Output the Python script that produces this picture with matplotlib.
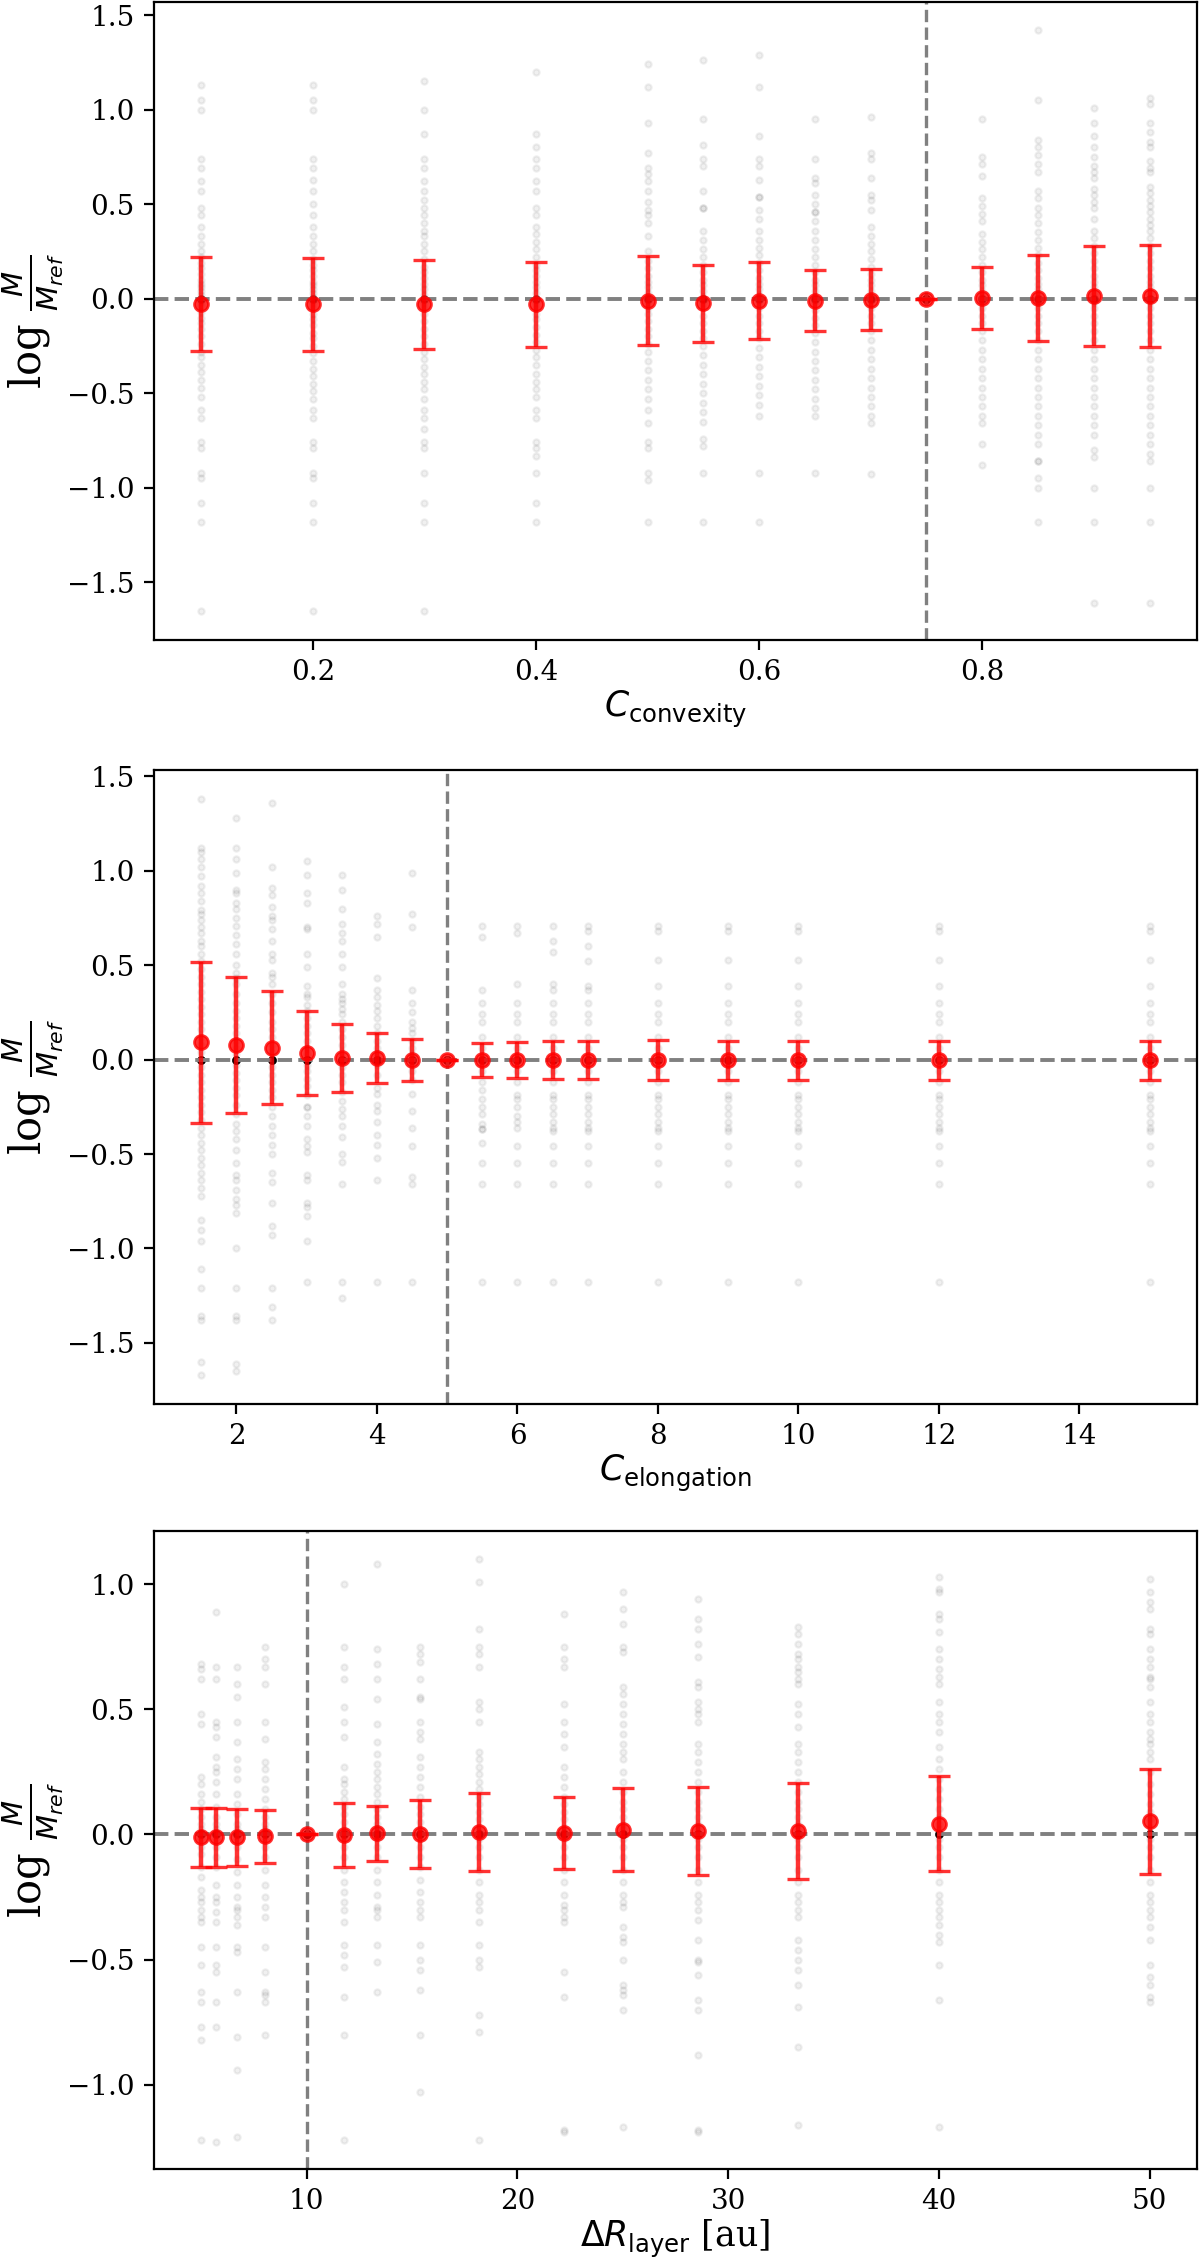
import numpy as np
import matplotlib
matplotlib.use("Agg")
import matplotlib.pyplot as plt

plt.rcParams['font.family'] = 'serif'
plt.rcParams['font.serif'] = ['DejaVu Serif']
plt.rcParams['mathtext.fontset'] = 'dejavusans'

# ---------------- panel 1 : C_convexity ----------------
conv_x = [0.1, 0.2, 0.3, 0.4, 0.5, 0.55, 0.6, 0.65, 0.7, 0.75, 0.8, 0.85, 0.9, 0.95]
conv_mean = [-0.03, -0.03, -0.03, -0.03, -0.01, -0.025, -0.01, -0.01, -0.005, 0.0, 0.004, 0.003, 0.012, 0.016]
conv_err = [0.248, 0.247, 0.236, 0.225, 0.233, 0.202, 0.203, 0.16, 0.162, 0.0, 0.166, 0.229, 0.264, 0.27]
conv_ref = 0.75
conv_nzero = [15, 15, 15, 15, 15, 15, 15, 15, 15, 60, 15, 15, 15, 15]
conv_pts = [
    [1.13, 1.05, 1.0, 0.74, 0.69, 0.62, 0.57, 0.48, 0.44, 0.38, 0.33, 0.29, 0.25, 0.22, 0.19, 0.16, 0.13, 0.1, 0.08, 0.06, 0.04, 0.02, -0.02, -0.04, -0.07, -0.1, -0.13, -0.16, -0.2, -0.24, -0.28, -0.31, -0.35, -0.39, -0.43, -0.47, -0.52, -0.59, -0.63, -0.76, -0.79, -0.92, -0.95, -1.08, -1.18, -1.65],
    [1.13, 1.05, 1.0, 0.74, 0.69, 0.63, 0.57, 0.5, 0.44, 0.38, 0.33, 0.29, 0.25, 0.21, 0.18, 0.15, 0.12, 0.09, 0.07, 0.05, 0.03, 0.01, -0.02, -0.05, -0.08, -0.11, -0.14, -0.18, -0.21, -0.25, -0.29, -0.33, -0.37, -0.41, -0.45, -0.49, -0.53, -0.59, -0.63, -0.76, -0.79, -0.92, -0.95, -1.08, -1.18, -1.65],
    [1.15, 1.0, 0.87, 0.74, 0.69, 0.62, 0.57, 0.52, 0.48, 0.44, 0.4, 0.36, 0.33, 0.29, 0.25, 0.21, 0.17, 0.14, 0.11, 0.08, 0.05, 0.02, -0.02, -0.05, -0.08, -0.12, -0.16, -0.2, -0.24, -0.28, -0.32, -0.36, -0.4, -0.44, -0.48, -0.53, -0.59, -0.63, -0.69, -0.76, -0.79, -0.92, -1.08, -1.18, -1.65],
    [1.2, 0.87, 0.8, 0.74, 0.69, 0.62, 0.57, 0.48, 0.44, 0.38, 0.34, 0.3, 0.26, 0.22, 0.18, 0.15, 0.12, 0.09, 0.06, 0.03, -0.02, -0.05, -0.08, -0.11, -0.15, -0.19, -0.23, -0.27, -0.31, -0.35, -0.4, -0.44, -0.48, -0.52, -0.59, -0.63, -0.76, -0.79, -0.83, -0.92, -1.08, -1.18],
    [1.24, 1.12, 0.93, 0.77, 0.69, 0.66, 0.62, 0.57, 0.51, 0.47, 0.44, 0.4, 0.33, 0.25, 0.2, 0.16, 0.12, 0.09, 0.06, 0.03, -0.02, -0.05, -0.08, -0.12, -0.16, -0.2, -0.24, -0.28, -0.33, -0.38, -0.43, -0.48, -0.53, -0.59, -0.66, -0.76, -0.79, -0.92, -0.96, -1.18],
    [1.26, 0.95, 0.81, 0.74, 0.7, 0.57, 0.48, 0.48, 0.36, 0.31, 0.26, 0.22, 0.18, 0.14, 0.1, 0.07, 0.04, 0.01, -0.02, -0.05, -0.09, -0.13, -0.17, -0.21, -0.25, -0.3, -0.35, -0.4, -0.45, -0.5, -0.55, -0.6, -0.65, -0.74, -0.78, -0.92, -1.18],
    [1.29, 1.12, 0.86, 0.74, 0.7, 0.63, 0.54, 0.54, 0.47, 0.42, 0.36, 0.31, 0.27, 0.23, 0.19, 0.15, 0.11, 0.08, 0.05, 0.02, -0.02, -0.05, -0.09, -0.13, -0.17, -0.21, -0.26, -0.31, -0.36, -0.41, -0.46, -0.51, -0.56, -0.62, -0.92, -1.18],
    [0.95, 0.74, 0.64, 0.61, 0.55, 0.5, 0.46, 0.46, 0.41, 0.36, 0.31, 0.26, 0.22, 0.18, 0.14, 0.1, 0.07, 0.04, 0.01, -0.02, -0.06, -0.1, -0.14, -0.18, -0.23, -0.28, -0.33, -0.38, -0.43, -0.48, -0.53, -0.58, -0.62, -0.92],
    [0.96, 0.77, 0.74, 0.64, 0.55, 0.52, 0.47, 0.38, 0.33, 0.29, 0.25, 0.21, 0.17, 0.13, 0.1, 0.07, 0.04, 0.01, -0.02, -0.05, -0.09, -0.13, -0.17, -0.22, -0.27, -0.32, -0.37, -0.42, -0.47, -0.52, -0.57, -0.62, -0.66, -0.93],
    [],
    [0.95, 0.75, 0.71, 0.65, 0.53, 0.49, 0.45, 0.41, 0.34, 0.3, 0.26, 0.22, 0.18, 0.14, 0.1, 0.07, 0.04, 0.01, -0.02, -0.05, -0.09, -0.13, -0.17, -0.22, -0.27, -0.32, -0.37, -0.42, -0.47, -0.52, -0.57, -0.62, -0.66, -0.77, -0.88],
    [1.42, 1.05, 0.84, 0.8, 0.76, 0.71, 0.67, 0.57, 0.53, 0.48, 0.44, 0.4, 0.35, 0.31, 0.27, 0.23, 0.19, 0.15, 0.11, 0.08, 0.05, 0.02, -0.02, -0.05, -0.09, -0.13, -0.17, -0.22, -0.27, -0.32, -0.37, -0.42, -0.47, -0.52, -0.57, -0.62, -0.67, -0.72, -0.77, -0.86, -0.86, -0.95, -1.0, -1.18],
    [1.01, 0.93, 0.86, 0.8, 0.75, 0.7, 0.67, 0.64, 0.58, 0.55, 0.51, 0.48, 0.42, 0.36, 0.32, 0.28, 0.24, 0.2, 0.16, 0.12, 0.09, 0.06, 0.03, -0.02, -0.05, -0.09, -0.13, -0.17, -0.22, -0.27, -0.32, -0.37, -0.42, -0.47, -0.52, -0.57, -0.62, -0.67, -0.72, -0.8, -0.84, -1.0, -1.18, -1.61],
    [1.06, 1.03, 0.93, 0.88, 0.83, 0.8, 0.73, 0.69, 0.67, 0.59, 0.56, 0.52, 0.49, 0.46, 0.42, 0.39, 0.36, 0.32, 0.28, 0.24, 0.2, 0.16, 0.12, 0.09, 0.06, 0.03, -0.02, -0.05, -0.09, -0.13, -0.17, -0.22, -0.27, -0.32, -0.37, -0.42, -0.47, -0.52, -0.57, -0.62, -0.67, -0.72, -0.77, -0.82, -0.86, -1.0, -1.18, -1.61],
]

# ---------------- panel 2 : C_elongation ----------------
elon_x = [1.5, 2, 2.5, 3, 3.5, 4, 4.5, 5, 5.5, 6, 6.5, 7, 8, 9, 10, 12, 15]
elon_mean = [0.091, 0.079, 0.063, 0.035, 0.011, 0.007, -0.002, 0.0, -0.002, -0.002, -0.003, -0.003, -0.003, -0.003, -0.003, -0.003, -0.003]
elon_err = [0.426, 0.36, 0.30, 0.225, 0.18, 0.132, 0.111, 0.0, 0.09, 0.094, 0.10, 0.10, 0.107, 0.103, 0.103, 0.103, 0.103]
elon_ref = 5
elon_nzero = [40, 40, 40, 40, 40, 40, 30, 60, 25, 25, 25, 25, 25, 25, 25, 25, 25]
elon_pts = [
    [1.38, 1.12, 1.1, 1.06, 1.02, 0.97, 0.92, 0.88, 0.84, 0.79, 0.77, 0.74, 0.7, 0.67, 0.63, 0.6, 0.56, 0.52, 0.48, 0.44, 0.4, 0.36, 0.32, 0.28, 0.24, 0.2, 0.16, 0.12, 0.08, 0.04, -0.04, -0.08, -0.12, -0.16, -0.2, -0.24, -0.28, -0.32, -0.36, -0.4, -0.44, -0.48, -0.52, -0.56, -0.6, -0.64, -0.68, -0.72, -0.85, -0.9, -0.96, -1.11, -1.21, -1.36, -1.38, -1.6, -1.67],
    [1.28, 1.12, 1.06, 0.99, 0.9, 0.88, 0.83, 0.8, 0.75, 0.71, 0.66, 0.61, 0.56, 0.5, 0.46, 0.43, 0.4, 0.35, 0.3, 0.26, 0.22, 0.18, 0.14, 0.1, 0.06, 0.03, -0.03, -0.07, -0.11, -0.15, -0.19, -0.24, -0.29, -0.34, -0.38, -0.42, -0.48, -0.55, -0.61, -0.64, -0.69, -0.74, -0.77, -0.81, -1.0, -1.21, -1.36, -1.38, -1.61, -1.65],
    [1.36, 1.02, 0.91, 0.87, 0.81, 0.76, 0.74, 0.69, 0.63, 0.56, 0.53, 0.46, 0.44, 0.4, 0.35, 0.3, 0.25, 0.2, 0.16, 0.12, 0.08, 0.04, -0.04, -0.08, -0.12, -0.16, -0.2, -0.25, -0.3, -0.35, -0.4, -0.45, -0.5, -0.6, -0.65, -0.76, -0.88, -0.93, -1.21, -1.31, -1.38],
    [1.05, 0.98, 0.88, 0.83, 0.7, 0.69, 0.56, 0.49, 0.39, 0.35, 0.33, 0.29, 0.26, 0.22, 0.18, 0.14, 0.1, 0.06, 0.03, -0.03, -0.06, -0.1, -0.14, -0.19, -0.25, -0.25, -0.3, -0.35, -0.42, -0.46, -0.49, -0.61, -0.64, -0.76, -0.78, -0.83, -0.96, -1.18],
    [0.98, 0.9, 0.8, 0.72, 0.67, 0.63, 0.56, 0.49, 0.4, 0.35, 0.32, 0.3, 0.27, 0.24, 0.2, 0.16, 0.12, 0.08, 0.04, -0.04, -0.08, -0.12, -0.17, -0.22, -0.26, -0.3, -0.35, -0.41, -0.5, -0.54, -0.66, -1.18, -1.26],
    [0.76, 0.72, 0.65, 0.43, 0.37, 0.33, 0.29, 0.26, 0.22, 0.18, 0.14, 0.1, 0.06, 0.03, -0.03, -0.08, -0.15, -0.18, -0.24, -0.27, -0.33, -0.4, -0.45, -0.52, -0.64, -1.18],
    [0.99, 0.77, 0.7, 0.37, 0.3, 0.25, 0.2, 0.17, 0.14, 0.1, 0.06, 0.03, -0.03, -0.06, -0.11, -0.18, -0.27, -0.36, -0.46, -0.62, -0.66, -1.18],
    [],
    [0.71, 0.65, 0.37, 0.3, 0.24, 0.2, 0.12, 0.06, -0.06, -0.12, -0.16, -0.21, -0.25, -0.29, -0.34, -0.37, -0.37, -0.44, -0.55, -0.66, -1.18],
    [0.71, 0.67, 0.4, 0.3, 0.24, 0.2, 0.12, 0.06, -0.06, -0.12, -0.19, -0.21, -0.25, -0.3, -0.33, -0.36, -0.46, -0.55, -0.66, -1.18],
    [0.71, 0.63, 0.57, 0.4, 0.37, 0.3, 0.24, 0.2, 0.12, 0.06, -0.06, -0.12, -0.19, -0.21, -0.25, -0.29, -0.33, -0.36, -0.38, -0.46, -0.55, -0.66, -1.18],
    [0.71, 0.68, 0.6, 0.52, 0.39, 0.37, 0.3, 0.24, 0.2, 0.12, 0.06, -0.06, -0.12, -0.19, -0.21, -0.25, -0.29, -0.33, -0.36, -0.38, -0.46, -0.55, -0.66, -1.18],
    [0.71, 0.68, 0.53, 0.39, 0.3, 0.24, 0.2, 0.12, 0.06, -0.06, -0.12, -0.19, -0.21, -0.25, -0.29, -0.33, -0.36, -0.38, -0.46, -0.55, -0.66, -1.18],
    [0.71, 0.68, 0.53, 0.39, 0.3, 0.24, 0.2, 0.12, 0.06, -0.06, -0.12, -0.19, -0.21, -0.25, -0.29, -0.33, -0.36, -0.38, -0.46, -0.55, -0.66, -1.18],
    [0.71, 0.68, 0.53, 0.39, 0.3, 0.24, 0.2, 0.12, 0.06, -0.06, -0.12, -0.19, -0.21, -0.25, -0.29, -0.33, -0.36, -0.38, -0.46, -0.55, -0.66, -1.18],
    [0.71, 0.68, 0.53, 0.39, 0.3, 0.24, 0.2, 0.12, 0.06, -0.06, -0.12, -0.19, -0.21, -0.25, -0.29, -0.33, -0.36, -0.38, -0.46, -0.55, -0.66, -1.18],
    [0.71, 0.68, 0.53, 0.39, 0.3, 0.24, 0.2, 0.12, 0.06, -0.06, -0.12, -0.19, -0.21, -0.25, -0.29, -0.33, -0.36, -0.38, -0.46, -0.55, -0.66, -1.18],
]

# ---------------- panel 3 : Delta R_layer ----------------
lay_x = [5.0, 5.71, 6.67, 8.0, 10.0, 11.76, 13.33, 15.38, 18.18, 22.22, 25.0, 28.57, 33.33, 40.0, 50.0]
lay_mean = [-0.012, -0.012, -0.012, -0.008, 0.0, -0.003, 0.005, 0.002, 0.011, 0.005, 0.019, 0.015, 0.015, 0.043, 0.052]
lay_err = [0.116, 0.117, 0.114, 0.106, 0.0, 0.128, 0.11, 0.135, 0.155, 0.143, 0.165, 0.175, 0.192, 0.19, 0.208]
lay_ref = 10
lay_nzero = [25, 25, 25, 25, 60, 25, 25, 25, 25, 25, 30, 30, 30, 35, 35]
lay_pts = [
    [0.68, 0.66, 0.62, 0.48, 0.44, 0.23, 0.2, 0.16, 0.13, 0.1, 0.07, 0.04, 0.02, -0.02, -0.05, -0.08, -0.13, -0.17, -0.22, -0.25, -0.27, -0.3, -0.33, -0.35, -0.45, -0.52, -0.63, -0.67, -0.77, -0.82, -1.22],
    [0.89, 0.67, 0.62, 0.45, 0.43, 0.39, 0.31, 0.27, 0.25, 0.21, 0.16, 0.11, 0.07, 0.04, 0.02, -0.02, -0.05, -0.09, -0.13, -0.2, -0.25, -0.27, -0.31, -0.35, -0.45, -0.52, -0.55, -0.67, -0.77, -1.23],
    [0.67, 0.6, 0.55, 0.45, 0.37, 0.3, 0.26, 0.22, 0.16, 0.12, 0.08, 0.04, 0.02, -0.02, -0.05, -0.1, -0.15, -0.2, -0.25, -0.29, -0.3, -0.33, -0.36, -0.45, -0.47, -0.63, -0.81, -0.94, -1.21],
    [0.75, 0.7, 0.67, 0.6, 0.45, 0.38, 0.29, 0.26, 0.22, 0.18, 0.14, 0.1, 0.07, 0.04, 0.02, -0.02, -0.05, -0.09, -0.14, -0.2, -0.25, -0.29, -0.33, -0.45, -0.55, -0.63, -0.64, -0.67, -0.8],
    [],
    [1.0, 0.75, 0.67, 0.62, 0.51, 0.45, 0.39, 0.27, 0.22, 0.2, 0.17, 0.14, 0.11, 0.08, 0.05, 0.02, -0.02, -0.05, -0.09, -0.14, -0.19, -0.23, -0.27, -0.3, -0.35, -0.44, -0.48, -0.53, -0.65, -0.8, -1.22],
    [1.08, 0.74, 0.68, 0.62, 0.54, 0.44, 0.37, 0.32, 0.28, 0.25, 0.22, 0.19, 0.16, 0.13, 0.1, 0.07, 0.04, 0.02, -0.02, -0.05, -0.09, -0.14, -0.19, -0.24, -0.29, -0.3, -0.33, -0.44, -0.51, -0.63],
    [0.75, 0.72, 0.69, 0.62, 0.55, 0.54, 0.45, 0.41, 0.38, 0.31, 0.27, 0.23, 0.19, 0.15, 0.11, 0.08, 0.05, 0.02, -0.02, -0.05, -0.09, -0.13, -0.18, -0.23, -0.27, -0.3, -0.33, -0.44, -0.5, -0.54, -0.62, -0.8, -1.03],
    [1.1, 1.01, 0.82, 0.75, 0.72, 0.67, 0.53, 0.5, 0.45, 0.33, 0.3, 0.27, 0.24, 0.21, 0.18, 0.15, 0.12, 0.09, 0.06, 0.03, -0.02, -0.05, -0.09, -0.14, -0.19, -0.24, -0.27, -0.3, -0.35, -0.44, -0.5, -0.53, -0.72, -0.79, -1.22],
    [0.88, 0.75, 0.7, 0.67, 0.52, 0.45, 0.4, 0.35, 0.27, 0.23, 0.19, 0.15, 0.12, 0.09, 0.06, 0.03, -0.02, -0.05, -0.09, -0.14, -0.19, -0.24, -0.28, -0.3, -0.33, -0.35, -0.55, -0.65, -1.18, -1.19],
    [0.97, 0.9, 0.84, 0.75, 0.73, 0.59, 0.56, 0.52, 0.48, 0.44, 0.4, 0.36, 0.33, 0.3, 0.25, 0.21, 0.17, 0.13, 0.1, 0.07, 0.04, 0.02, -0.02, -0.05, -0.09, -0.14, -0.19, -0.24, -0.27, -0.29, -0.37, -0.41, -0.43, -0.5, -0.6, -0.62, -0.64, -0.7, -1.17],
    [0.94, 0.86, 0.82, 0.76, 0.71, 0.61, 0.59, 0.53, 0.5, 0.48, 0.45, 0.36, 0.33, 0.29, 0.25, 0.21, 0.17, 0.13, 0.1, 0.07, 0.04, 0.02, -0.02, -0.05, -0.09, -0.14, -0.19, -0.24, -0.27, -0.3, -0.34, -0.42, -0.5, -0.51, -0.56, -0.66, -0.7, -0.88, -1.18, -1.19],
    [0.83, 0.8, 0.76, 0.72, 0.7, 0.67, 0.65, 0.62, 0.6, 0.52, 0.48, 0.43, 0.36, 0.33, 0.29, 0.25, 0.21, 0.17, 0.13, 0.1, 0.07, 0.04, 0.02, -0.02, -0.05, -0.09, -0.14, -0.19, -0.24, -0.27, -0.3, -0.33, -0.42, -0.46, -0.5, -0.54, -0.6, -0.69, -0.85, -1.16],
    [1.03, 0.98, 0.97, 0.88, 0.86, 0.81, 0.74, 0.7, 0.66, 0.63, 0.6, 0.53, 0.48, 0.45, 0.41, 0.35, 0.3, 0.26, 0.22, 0.18, 0.14, 0.1, 0.07, 0.04, 0.02, -0.02, -0.05, -0.09, -0.14, -0.19, -0.24, -0.27, -0.3, -0.33, -0.36, -0.4, -0.43, -0.52, -0.66, -1.17],
    [1.02, 0.97, 0.93, 0.9, 0.82, 0.8, 0.74, 0.7, 0.67, 0.63, 0.62, 0.59, 0.53, 0.48, 0.45, 0.41, 0.38, 0.36, 0.33, 0.3, 0.25, 0.2, 0.16, 0.12, 0.09, 0.06, 0.03, -0.02, -0.05, -0.09, -0.14, -0.19, -0.24, -0.27, -0.3, -0.33, -0.37, -0.42, -0.52, -0.57, -0.6, -0.65, -0.67],
]

ylab = r'log $\frac{M}{M_{ref}}$'

fig = plt.figure(figsize=(6, 11.29), dpi=200)
ax1 = fig.add_axes([0.1283, 0.7166, 0.8692, 0.2826])
ax2 = fig.add_axes([0.1283, 0.3782, 0.8692, 0.2808])
ax3 = fig.add_axes([0.1283, 0.0394, 0.8692, 0.2826])


def panel(ax, xs, pts, nzero, mean, err, ref, xlabel):
    for x, p, nz in zip(xs, pts, nzero):
        y = np.concatenate([np.array(p, dtype=float), np.zeros(nz)])
        ax.scatter(np.full(len(y), x), y, s=5, color='k', alpha=0.06, linewidths=0.8)
    ax.errorbar(xs, mean, yerr=err, fmt='o', color='red', ms=5, capsize=4,
                elinewidth=1.6, capthick=1.2, alpha=0.8, zorder=3)
    ax.axhline(0, color='gray', ls='--', lw=1.4, zorder=2)
    ax.axvline(ref, color='gray', ls='--', lw=1.2, zorder=2)
    ax.set_xlabel(xlabel, fontsize=12.5, labelpad=1)
    ax.set_ylabel(ylab, fontsize=15)
    ax.yaxis.set_label_coords(-0.085, 0.5)
    ax.tick_params(labelsize=10)


panel(ax1, conv_x, conv_pts, conv_nzero, conv_mean, conv_err, conv_ref, r'$C_{\rm convexity}$')
panel(ax2, elon_x, elon_pts, elon_nzero, elon_mean, elon_err, elon_ref, r'$C_{\rm elongation}$')
panel(ax3, lay_x, lay_pts, lay_nzero, lay_mean, lay_err, lay_ref, r'$\Delta R_{\rm layer}$ [au]')

ax1.set_xlim(0.0575, 0.9925)
ax1.set_ylim(-1.805, 1.57)
ax1.set_yticks([-1.5, -1.0, -0.5, 0.0, 0.5, 1.0, 1.5])
ax2.set_xlim(0.825, 15.675)
ax2.set_ylim(-1.824, 1.534)
ax2.set_yticks([-1.5, -1.0, -0.5, 0.0, 0.5, 1.0, 1.5])
ax3.set_xlim(2.75, 52.25)
ax3.set_ylim(-1.336, 1.212)
ax3.set_yticks([-1.0, -0.5, 0.0, 0.5, 1.0])

plt.savefig('out.png', dpi=200)
